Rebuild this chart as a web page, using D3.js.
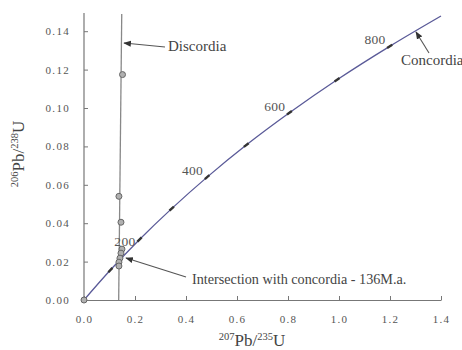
<!DOCTYPE html>
<html>
<head>
<meta charset="utf-8">
<script src="https://cdn.jsdelivr.net/npm/d3@7"></script>
<style>
  body { margin: 0; background: #fff; }
  svg text { font-family: "Liberation Serif", "DejaVu Serif", serif !important; }
</style>
</head>
<body>
<svg id="chart" width="462" height="350"></svg>
<script>
// concordia (age in Ma)
var concAge = [0, 100, 200, 300, 400, 500, 600, 700, 800, 889];
var concX = [0, 0.1035, 0.2177, 0.3438, 0.4828, 0.6363, 0.8056, 0.9925, 1.1987, 1.4];
var concY = [0, 0.0156, 0.0315, 0.0476, 0.0640, 0.0807, 0.0975, 0.1147, 0.1321, 0.1479];
var ageLabels = [200, 400, 600, 800];

// measured points
var ptX = [0, 0.137, 0.145, 0.149, 0.145, 0.141, 0.137, 0.137, 0.151];
var ptY = [0, 0.054, 0.0405, 0.0265, 0.0244, 0.0218, 0.0197, 0.0177, 0.1174];

// discordia line ends
var discX = [0.136, 0.148];
var discY = [0, 0.149];

var xTicks = [0, 0.2, 0.4, 0.6, 0.8, 1.0, 1.2, 1.4];
var yTicks = [0, 0.02, 0.04, 0.06, 0.08, 0.10, 0.12, 0.14];

const svg = d3.select("#chart");
const x = d3.scaleLinear().domain([0, 1.4]).range([84, 441]);
const y = d3.scaleLinear().domain([0, 0.15]).range([300, 12]);

const axisCol = "#777";
const txtCol = "#555";

// axes
const gx = svg.append("g").attr("transform", "translate(0,300)")
  .call(d3.axisBottom(x).tickValues(xTicks).tickFormat(d3.format(".1f")).tickSizeInner(-4).tickSizeOuter(0).tickPadding(15));
const gy = svg.append("g").attr("transform", "translate(84,0)")
  .call(d3.axisLeft(y).tickValues(yTicks).tickFormat(d3.format(".2f")).tickSizeInner(-4).tickSizeOuter(0).tickPadding(14));
[gx, gy].forEach(g => {
  g.attr("font-family", null);
  g.select(".domain").attr("stroke", axisCol).attr("stroke-width", 1.2);
  g.selectAll(".tick line").attr("stroke", axisCol);
  g.selectAll(".tick text")
    .attr("fill", txtCol)
    .attr("font-size", "11px")
    .attr("letter-spacing", "1.3px");
});
gy.select(".domain").attr("d", "M0,300V13");

// discordia
svg.append("line")
  .attr("x1", x(discX[0])).attr("y1", y(discY[0]))
  .attr("x2", x(discX[1])).attr("y2", y(discY[1]))
  .attr("stroke", "#888").attr("stroke-width", 1.3);

// concordia
const conc = concX.map((d, i) => [d, concY[i], concAge[i]]);
svg.append("path")
  .datum(conc)
  .attr("d", d3.line().x(d => x(d[0])).y(d => y(d[1])).curve(d3.curveCatmullRom))
  .attr("fill", "none")
  .attr("stroke", "#5a5a98")
  .attr("stroke-width", 1.3);

// age ticks on concordia
conc.slice(1, 9).forEach((d, i) => {
  const nx = conc[i + 2], px = conc[i];
  const ang = Math.atan2(y(nx[1]) - y(px[1]), x(nx[0]) - x(px[0])) * 180 / Math.PI;
  svg.append("rect")
    .attr("x", -3).attr("y", -1.2).attr("width", 6).attr("height", 2.4)
    .attr("fill", "#333")
    .attr("transform", `translate(${x(d[0])},${y(d[1])}) rotate(${ang})`);
});

// age labels
svg.selectAll(".age").data(ageLabels).enter().append("text")
  .attr("x", a => x(concX[concAge.indexOf(a)]) - 4)
  .attr("y", a => y(concY[concAge.indexOf(a)]) + (a === 200 ? 6 : -2))
  .attr("text-anchor", "end")
  .attr("font-size", "13.5px")
  .attr("letter-spacing", "0.3px")
  .attr("fill", txtCol)
  .text(a => a);

// points
svg.selectAll(".pt").data(ptX).enter().append("circle")
  .attr("cx", (d, i) => x(d))
  .attr("cy", (d, i) => y(ptY[i]))
  .attr("r", 3)
  .attr("fill", "#b0b0b0")
  .attr("stroke", "#666")
  .attr("stroke-width", 1);

// arrows
svg.append("defs").append("marker")
  .attr("id", "ah").attr("viewBox", "0 0 10 10")
  .attr("refX", 9).attr("refY", 5)
  .attr("markerWidth", 7).attr("markerHeight", 7)
  .attr("orient", "auto")
  .append("path").attr("d", "M0,1L10,5L0,9Z").attr("fill", "#333");

function arrow(x1, y1, x2, y2) {
  svg.append("line")
    .attr("x1", x1).attr("y1", y1).attr("x2", x2).attr("y2", y2)
    .attr("stroke", "#555").attr("stroke-width", 1.1)
    .attr("marker-end", "url(#ah)");
}
arrow(165, 47, 124, 43);
arrow(186, 277, 126, 258);
arrow(429, 53, 416, 32);

function note(tx, ty, s, fs) {
  svg.append("text").attr("x", tx).attr("y", ty)
    .attr("font-size", fs).attr("fill", "#444").text(s);
}
note(168, 51, "Discordia", "15px");
note(192, 284, "Intersection with concordia - 136M.a.", "14.2px");
note(401, 65, "Concordia", "15px");

// axis titles
const xt = svg.append("text").attr("x", 252).attr("y", 346)
  .attr("text-anchor", "middle").attr("font-size", "17px").attr("fill", "#444");
xt.append("tspan").attr("font-size", "10.5px").attr("dy", -6).text("207");
xt.append("tspan").attr("dy", 6).text("Pb/");
xt.append("tspan").attr("font-size", "10.5px").attr("dy", -6).text("235");
xt.append("tspan").attr("dy", 6).text("U");

const yt = svg.append("text").attr("transform", "translate(24,154) rotate(-90)")
  .attr("text-anchor", "middle").attr("font-size", "17px").attr("fill", "#444");
yt.append("tspan").attr("font-size", "10.5px").attr("dy", -6).text("206");
yt.append("tspan").attr("dy", 6).text("Pb/");
yt.append("tspan").attr("font-size", "10.5px").attr("dy", -6).text("238");
yt.append("tspan").attr("dy", 6).text("U");
</script>
</body>
</html>
